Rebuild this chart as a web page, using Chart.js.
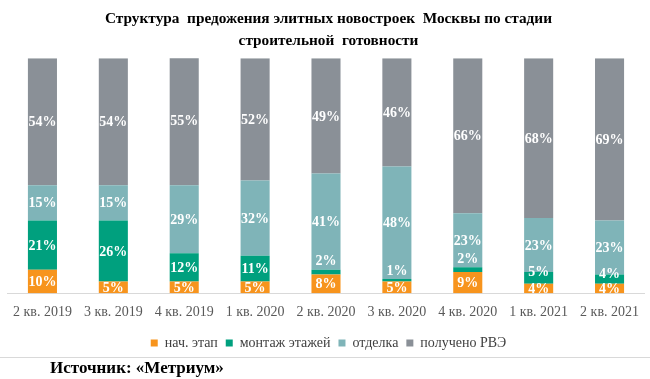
<!DOCTYPE html>
<html><head><meta charset="utf-8">
<script src="https://cdn.jsdelivr.net/npm/chart.js@4"></script>
<style>html,body{margin:0;padding:0;background:#fff}#w{width:650px;height:379px}</style>
</head><body><div id="w"><canvas id="c"></canvas></div>
<script>
const categories = ["2 кв. 2019","3 кв. 2019","4 кв. 2019","1 кв. 2020","2 кв. 2020","3 кв. 2020","4 кв. 2020","1 кв. 2021","2 кв. 2021"];
const initialStage = [10,5,5,5,8,5,9,4,4];
const floorsMounting = [21,26,12,11,2,1,2,5,4];
const finishing = [15,15,29,32,41,48,23,23,23];
const commissioned = [54,54,55,52,49,46,66,68,69];
const seriesNames = ["нач. этап","монтаж этажей","отделка","получено РВЭ"];
const titleLines = ["Структура  предожения элитных новостроек  Москвы по стадии","строительной  готовности"];
const sourceText = "Источник: «Метриум»";

const SERIF = "'Liberation Serif','Times New Roman',serif";

const labelPlugin = {
  id:'lbl',
  afterDatasetsDraw(chart){
    const ctx = chart.ctx, ca = chart.chartArea;
    ctx.save();
    ctx.beginPath(); ctx.rect(0, 0, chart.width, ca.bottom); ctx.clip();
    ctx.font = "bold 14px " + SERIF;
    ctx.fillStyle = "#fff";
    ctx.textAlign = "center"; ctx.textBaseline = "middle";
    chart.data.datasets.forEach((ds, di) => {
      const meta = chart.getDatasetMeta(di);
      meta.data.forEach((el, i) => {
        const top = Math.min(el.y, el.base), bot = Math.max(el.y, el.base);
        const h = bot - top;
        let y = (top + bot) / 2;
        if (di === 1) {
          if (h < 8) y = top - 9;
          else if (h < 16) y = top - 1;
        }
        ctx.fillText(ds.data[i] + "%", el.x, y + 1);
      });
    });
    ctx.restore();
  }
};
const legendShift = {
  id:'legendShift',
  afterLayout(chart){
    if (chart.legend) { chart.legend.top -= 4; chart.legend.bottom -= 4; }
  }
};
const footPlugin = {
  id:'foot',
  afterDraw(chart){
    const ctx = chart.ctx;
    ctx.save();
    ctx.strokeStyle = "#d9d9d9"; ctx.lineWidth = 1;
    ctx.beginPath(); ctx.moveTo(0, 357.5); ctx.lineTo(650, 357.5); ctx.stroke();
    ctx.font = "bold 17px " + SERIF; ctx.fillStyle = "#000";
    ctx.textAlign = "left"; ctx.textBaseline = "middle";
    ctx.fillText(sourceText, 50, 369);
    ctx.restore();
  }
};

new Chart(document.getElementById('c'), {
  type:'bar',
  data:{
    labels: categories,
    datasets:[
      {label:seriesNames[0], data:initialStage, backgroundColor:'#F7941D'},
      {label:seriesNames[1], data:floorsMounting, backgroundColor:'#00A07E'},
      {label:seriesNames[2], data:finishing, backgroundColor:'#7FB4B8'},
      {label:seriesNames[3], data:commissioned, backgroundColor:'#8A9097'}
    ]
  },
  options:{
    responsive:true, maintainAspectRatio:false, animation:false,
    datasets:{bar:{categoryPercentage:1, barPercentage:0.41}},
    layout:{padding:{left:7, right:0, top:8, bottom:15}},
    scales:{
      x:{stacked:true, grid:{display:false, drawTicks:false}, border:{color:'#d9d9d9'},
         ticks:{color:'#595959', font:{family:SERIF, size:14}, padding:11}},
      y:{stacked:true, display:false, min:0, max:100}
    },
    plugins:{
      title:{display:true, text:titleLines, color:'#000', font:{family:SERIF, size:15.3, weight:'bold', lineHeight:1.45}, padding:{top:0, bottom:6}},
      legend:{position:'bottom', labels:{boxWidth:7, boxHeight:7, color:'#404040', font:{family:SERIF, size:14}, padding:8}},
      tooltip:{enabled:false}
    }
  },
  plugins:[labelPlugin, legendShift, footPlugin]
});
</script></body></html>
